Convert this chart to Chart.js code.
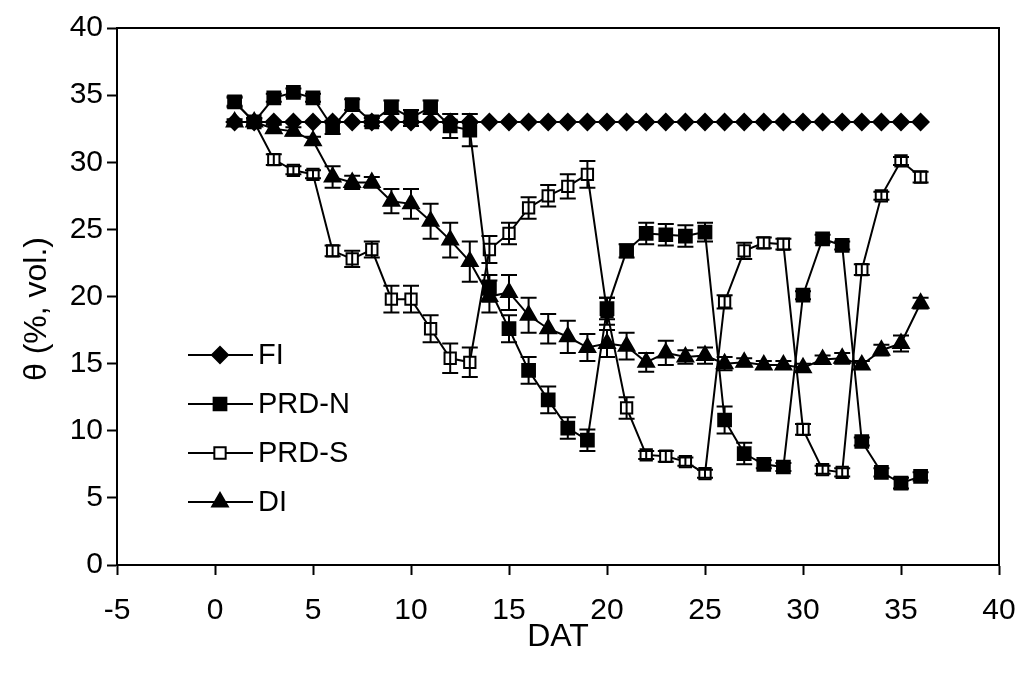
<!DOCTYPE html>
<html>
<head>
<meta charset="utf-8">
<script src="https://cdn.jsdelivr.net/npm/chart.js@4.4.0/dist/chart.umd.min.js"></script>
<style>
  html, body { margin: 0; padding: 0; background: #fff; }
  #wrap { width: 1019px; height: 674px; }
</style>
</head>
<body>
<div id="wrap"><canvas id="chart"></canvas></div>
<script>
// days after transplanting
const days = [1, 2, 3, 4, 5, 6, 7, 8, 9, 10, 11, 12, 13, 14, 15, 16, 17, 18,
  19, 20, 21, 22, 23, 24, 25, 26, 27, 28, 29, 30, 31, 32, 33, 34, 35, 36];

// soil water content, % vol.
const fi = [33.0, 33.0, 33.0, 33.0, 33.0, 33.0, 33.0, 33.0, 33.0, 33.0, 33.0, 33.0,
  33.0, 33.0, 33.0, 33.0, 33.0, 33.0, 33.0, 33.0, 33.0, 33.0, 33.0, 33.0,
  33.0, 33.0, 33.0, 33.0, 33.0, 33.0, 33.0, 33.0, 33.0, 33.0, 33.0, 33.0];
const prdN = [34.5, 33.0, 34.8, 35.2, 34.8, 32.6, 34.3, 33.0, 34.1, 33.3, 34.1, 32.7,
  32.4, 20.6, 17.6, 14.5, 12.3, 10.2, 9.3, 19.1, 23.4, 24.7, 24.6, 24.5,
  24.8, 10.8, 8.3, 7.5, 7.3, 20.1, 24.3, 23.8, 9.2, 6.9, 6.1, 6.6];
const prdS = [34.5, 33.0, 30.2, 29.4, 29.1, 23.4, 22.8, 23.5, 19.8, 19.8, 17.6, 15.4,
  15.1, 23.5, 24.7, 26.6, 27.5, 28.2, 29.1, 18.9, 11.7, 8.2, 8.1, 7.7,
  6.8, 19.6, 23.4, 24.0, 23.9, 10.1, 7.1, 6.9, 22.0, 27.5, 30.1, 28.9];
const di = [33.0, 33.0, 32.5, 32.3, 31.6, 28.9, 28.5, 28.5, 27.1, 26.9, 25.6, 24.2,
  22.6, 20.0, 20.3, 18.6, 17.6, 17.0, 16.2, 16.5, 16.3, 15.1, 15.8, 15.5,
  15.6, 15.0, 15.1, 14.9, 14.9, 14.7, 15.3, 15.4, 14.9, 16.0, 16.5, 19.5];

// error bar half lengths
const prdNErr = [0.4, 0.3, 0.3, 0.3, 0.3, 0.5, 0.4, 0.3, 0.5, 0.6, 0.5, 0.9,
  1.2, 1.0, 1.0, 1.0, 1.0, 0.8, 0.8, 0.8, 0.5, 0.8, 0.8, 0.8,
  0.7, 1.0, 0.8, 0.3, 0.3, 0.3, 0.3, 0.3, 0.3, 0.3, 0.4, 0.3];
const prdSErr = [0.3, 0.3, 0.4, 0.3, 0.3, 0.4, 0.6, 0.6, 1.0, 1.0, 1.0, 1.1,
  1.1, 1.0, 0.8, 0.8, 0.8, 0.9, 1.0, 1.0, 0.8, 0.3, 0.4, 0.3,
  0.3, 0.5, 0.6, 0.4, 0.4, 0.4, 0.3, 0.3, 0.4, 0.3, 0.3, 0.4];
const diErr = [0.2, 0.2, 0.3, 0.3, 0.3, 0.8, 0.5, 0.4, 0.9, 1.1, 1.3, 1.3,
  1.5, 1.2, 1.3, 1.3, 1.1, 1.2, 1.0, 1.0, 1.0, 0.7, 0.9, 0.5,
  0.6, 0.5, 0.3, 0.3, 0.3, 0.3, 0.3, 0.4, 0.3, 0.4, 0.6, 0.4];

const xTicks = [-5, 0, 5, 10, 15, 20, 25, 30, 35, 40];
const yTicks = [0, 5, 10, 15, 20, 25, 30, 35, 40];
const yTitle = "θ (%, vol.)";

const FONT = "'Liberation Sans', Arial, sans-serif";

function toPoints(ys) {
  return ys.map((y, i) => ({ x: days[i], y: y }));
}

// error bars drawn through the scales
const errorBars = {
  id: "errorBars",
  afterDatasetsDraw(chart) {
    const ctx = chart.ctx;
    const xs = chart.scales.x;
    const ys = chart.scales.y;
    ctx.save();
    ctx.strokeStyle = "#000";
    ctx.lineWidth = 2;
    chart.data.datasets.forEach((ds) => {
      if (!ds.errors) return;
      ds.data.forEach((p, i) => {
        const e = ds.errors[i];
        if (!e) return;
        const px = xs.getPixelForValue(p.x);
        const top = ys.getPixelForValue(p.y + e);
        const bot = ys.getPixelForValue(p.y - e);
        ctx.beginPath();
        ctx.moveTo(px, top);
        ctx.lineTo(px, bot);
        ctx.moveTo(px - 8, top);
        ctx.lineTo(px + 8, top);
        ctx.moveTo(px - 8, bot);
        ctx.lineTo(px + 8, bot);
        ctx.stroke();
      });
    });
    ctx.restore();
  },
};

// top and right frame lines
const frame = {
  id: "frame",
  beforeDatasetsDraw(chart) {
    const { ctx, chartArea: a } = chart;
    ctx.save();
    ctx.strokeStyle = "#000";
    ctx.lineWidth = 2;
    ctx.beginPath();
    ctx.moveTo(a.left, a.top);
    ctx.lineTo(a.right, a.top);
    ctx.lineTo(a.right, a.bottom);
    ctx.stroke();
    ctx.restore();
  },
};

function drawMarker(ctx, style, x, y, r, fill) {
  ctx.beginPath();
  if (style === "rectRot") {
    ctx.moveTo(x - r, y);
    ctx.lineTo(x, y - r);
    ctx.lineTo(x + r, y);
    ctx.lineTo(x, y + r);
  } else if (style === "triangle") {
    ctx.moveTo(x, y - r);
    ctx.lineTo(x + r * 0.866, y + r * 0.5);
    ctx.lineTo(x - r * 0.866, y + r * 0.5);
  } else {
    const s = r * Math.SQRT1_2;
    ctx.rect(x - s, y - s, 2 * s, 2 * s);
  }
  ctx.closePath();
  ctx.fillStyle = fill;
  ctx.fill();
  ctx.stroke();
}

// legend inside the plot, line through marker; plus the y title
const insideLegend = {
  id: "insideLegend",
  afterDraw(chart) {
    const ctx = chart.ctx;
    ctx.save();
    ctx.strokeStyle = "#000";
    ctx.lineWidth = 2;
    ctx.font = "29px " + FONT;
    ctx.textBaseline = "middle";
    chart.data.datasets.forEach((ds, i) => {
      const y = 355 + i * 49;
      ctx.beginPath();
      ctx.moveTo(188, y);
      ctx.lineTo(253, y);
      ctx.stroke();
      drawMarker(ctx, ds.pointStyle, 220, y, ds.pointRadius, ds.pointBackgroundColor);
      ctx.fillStyle = "#000";
      ctx.fillText(ds.label, 258, y + 1);
    });
    // y axis title
    ctx.translate(37, 309);
    ctx.rotate(-Math.PI / 2);
    ctx.textAlign = "center";
    ctx.font = "32px " + FONT;
    ctx.fillText(yTitle, 0, 0);
    ctx.restore();
  },
};

const datasets = [
  {
    label: "FI", data: toPoints(fi), pointStyle: "rectRot", pointRadius: 8,
    pointBackgroundColor: "#000",
  },
  {
    label: "PRD-N", data: toPoints(prdN), errors: prdNErr, pointStyle: "rect",
    pointRadius: 9, pointBackgroundColor: "#000",
  },
  {
    label: "PRD-S", data: toPoints(prdS), errors: prdSErr, pointStyle: "rect",
    pointRadius: 8, pointBackgroundColor: "#fff",
  },
  {
    label: "DI", data: toPoints(di), errors: diErr, pointStyle: "triangle",
    pointRadius: 9, pointBackgroundColor: "#000",
  },
].map((d) => Object.assign({
  borderColor: "#000",
  borderWidth: 2,
  pointBorderColor: "#000",
  pointBorderWidth: 2,
  pointHoverRadius: d.pointRadius,
  tension: 0,
  fill: false,
}, d));

new Chart(document.getElementById("chart"), {
  type: "line",
  data: { datasets: datasets },
  plugins: [frame, errorBars, insideLegend],
  options: {
    responsive: true,
    maintainAspectRatio: false,
    animation: false,
    events: [],
    layout: { padding: { top: 28, right: 20, left: 0, bottom: 0 } },
    plugins: { legend: { display: false }, tooltip: { enabled: false } },
    scales: {
      x: {
        type: "linear",
        min: -5,
        max: 40,
        afterBuildTicks: (s) => { s.ticks = xTicks.map((v) => ({ value: v })); },
        afterFit: (s) => { s.height = 109; s.paddingLeft = 0; s.paddingRight = 0; },
        border: { display: true, color: "#000", width: 2 },
        grid: { drawOnChartArea: false, drawTicks: true, tickLength: 10, tickColor: "#000", tickWidth: 2 },
        ticks: { color: "#000", padding: 18, font: { family: FONT, size: 30 }, maxRotation: 0 },
        title: { display: true, text: "DAT", color: "#000", font: { family: FONT, size: 32 }, padding: { top: 0, bottom: 18 } },
      },
      y: {
        min: 0,
        max: 40,
        afterBuildTicks: (s) => { s.ticks = yTicks.map((v) => ({ value: v })); },
        afterFit: (s) => { s.width = 117; s.paddingTop = 0; s.paddingBottom = 0; },
        border: { display: true, color: "#000", width: 2 },
        grid: { drawOnChartArea: false, drawTicks: true, tickLength: 10, tickColor: "#000", tickWidth: 2 },
        ticks: { color: "#000", padding: 4, font: { family: FONT, size: 30 } },
        title: { display: false },
      },
    },
  },
});
</script>
</body>
</html>
